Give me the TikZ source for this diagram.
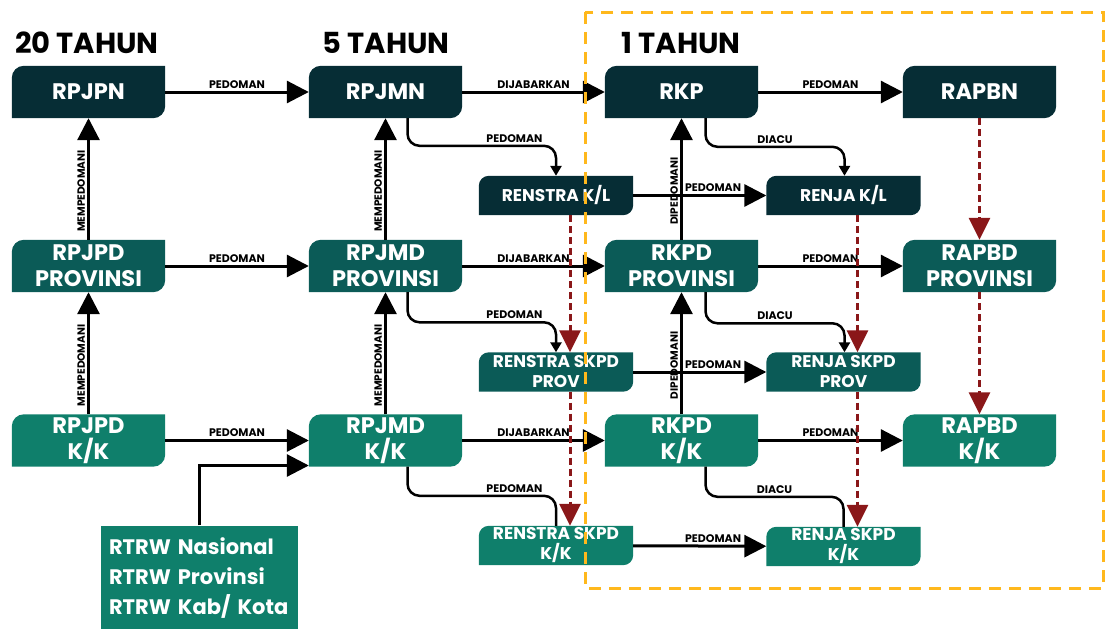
\documentclass[tikz,border=0pt]{standalone}
\usepackage{fontspec}
\setmainfont{Poppins}
\usetikzlibrary{arrows.meta,backgrounds}
\definecolor{toneA}{HTML}{062D35}
\definecolor{toneB}{HTML}{0B5B57}
\definecolor{toneC}{HTML}{0F7F6B}
\definecolor{budget}{HTML}{8A1719}
\definecolor{yearline}{HTML}{FFB81C}
\begin{document}
\begin{tikzpicture}[x=1pt,y=1pt,
    bigbox/.style={minimum width=153pt,minimum height=52pt,inner sep=0pt,align=center,text=white,
      font=\bfseries\fontsize{22.5}{26}\selectfont},
    smallbox/.style={minimum width=154pt,minimum height=39pt,inner sep=0pt,align=center,text=white,
      font=\bfseries\fontsize{17}{20}\selectfont},
    head/.style={font=\bfseries\fontsize{29}{32}\selectfont},
    lbl/.style={above,inner sep=2pt,font=\bfseries\fontsize{11}{12}\selectfont},
    vlbl/.style={rotate=90,anchor=south,pos=0.4,inner sep=2pt,font=\bfseries\fontsize{10.5}{12}\selectfont},
    big/.style={line width=3pt,-{Triangle[length=22pt,width=22pt]}},
    thin/.style={line width=2.5pt,rounded corners=12pt,-{Triangle[length=10pt,width=11pt]}},
    thinend/.style={line width=2.5pt,rounded corners=12pt},
    redline/.style={line width=3pt,budget,dash pattern=on 7pt off 4pt,-{Triangle[length=22pt,width=21pt]}}]
\useasboundingbox (0,0) rectangle (1106,-629);

\node[head] (h20) at (87,-43) {20 TAHUN};
\node[head] (h5) at (386,-43) {5 TAHUN};
\node[head] (h1) at (681,-43) {1 TAHUN};

\node[bigbox] (rpjpn) at (88.5,-92) {RPJPN};
\node[bigbox] (rpjmn) at (385.5,-92) {RPJMN};
\node[bigbox] (rkp) at (681.5,-92) {RKP};
\node[bigbox] (rapbn) at (979.5,-92) {RAPBN};

\node[bigbox] (rpjpdprov) at (88.5,-266) {RPJPD\\PROVINSI};
\node[bigbox] (rpjmdprov) at (385.5,-266) {RPJMD\\PROVINSI};
\node[bigbox] (rkpdprov) at (681.5,-266) {RKPD\\PROVINSI};
\node[bigbox] (rapbdprov) at (979.5,-266) {RAPBD\\PROVINSI};

\node[bigbox] (rpjpdkk) at (88.5,-440.5) {RPJPD\\K/K};
\node[bigbox] (rpjmdkk) at (385.5,-440.5) {RPJMD\\K/K};
\node[bigbox] (rkpdkk) at (681.5,-440.5) {RKPD\\K/K};
\node[bigbox] (rapbdkk) at (979.5,-440.5) {RAPBD\\K/K};

\node[smallbox] (renstrakl) at (556,-195.5) {RENSTRA K/L};
\node[smallbox] (renjakl) at (843.5,-195.5) {RENJA K/L};
\node[smallbox] (renstraprov) at (556,-372) {RENSTRA SKPD\\PROV};
\node[smallbox] (renjaprov) at (843.5,-372) {RENJA SKPD\\PROV};
\node[smallbox] (renstrakk) at (556,-545.5) {RENSTRA SKPD\\K/K};
\node[smallbox] (renjakk) at (843.5,-546.5) {RENJA SKPD\\K/K};

\node[fill=toneC,text=white,align=left,text width=181pt,inner xsep=8pt,inner ysep=0pt,minimum height=106pt,
  font=\bfseries\fontsize{21}{30}\selectfont] (rtrw) at (199.5,-578.5) {RTRW Nasional\\RTRW Provinsi\\RTRW Kab/ Kota};

\begin{scope}[on background layer]
\foreach \n/\c in {rpjpn/toneA,rpjmn/toneA,rkp/toneA,rapbn/toneA,
    rpjpdprov/toneB,rpjmdprov/toneB,rkpdprov/toneB,rapbdprov/toneB,
    rpjpdkk/toneC,rpjmdkk/toneC,rkpdkk/toneC,rapbdkk/toneC}
  \fill[\c] ([yshift=-12pt]\n.north west) arc[start angle=180,end angle=90,radius=12pt] -- (\n.north east)
    -- ([yshift=12pt]\n.south east) arc[start angle=0,end angle=-90,radius=12pt] -- (\n.south west) -- cycle;
\foreach \n/\c in {renstrakl/toneA,renjakl/toneA,renstraprov/toneB,renjaprov/toneB,renstrakk/toneC,renjakk/toneC}
  \fill[\c] ([yshift=-10pt]\n.north west) arc[start angle=180,end angle=90,radius=10pt] -- (\n.north east)
    -- ([yshift=10pt]\n.south east) arc[start angle=0,end angle=-90,radius=10pt] -- (\n.south west) -- cycle;
\end{scope}

\draw[big] (rpjpn) -- node[lbl] {PEDOMAN} (rpjmn);
\draw[big] (rpjmn) -- node[lbl] {DIJABARKAN} (rkp);
\draw[big] (rkp) -- node[lbl] {PEDOMAN} (rapbn);
\draw[big] (rpjpdprov) -- node[lbl] {PEDOMAN} (rpjmdprov);
\draw[big] (rpjmdprov) -- node[lbl] {DIJABARKAN} (rkpdprov);
\draw[big] (rkpdprov) -- node[lbl] {PEDOMAN} (rapbdprov);
\draw[big] (rpjpdkk) -- node[lbl] {PEDOMAN} (rpjmdkk);
\draw[big] (rpjmdkk) -- node[lbl] {DIJABARKAN} (rkpdkk);
\draw[big] (rkpdkk) -- node[lbl] {PEDOMAN} (rapbdkk);
\draw[big] (rtrw.north) |- ([yshift=-25pt]rpjmdkk.west);

\draw[big] (rpjpdprov) -- node[vlbl] {MEMPEDOMANI} (rpjpn);
\draw[big] (rpjpdkk) -- node[vlbl] {MEMPEDOMANI} (rpjpdprov);
\draw[big] (rpjmdprov) -- node[vlbl] {MEMPEDOMANI} (rpjmn);
\draw[big] (rpjmdkk) -- node[vlbl] {MEMPEDOMANI} (rpjmdprov);
\draw[big] (rkpdprov) -- node[vlbl] {DIPEDOMANI} (rkp);
\draw[big] (rkpdkk) -- node[vlbl] {DIPEDOMANI} (rkpdprov);

\draw[big] (renstrakl) -- node[lbl,pos=0.6] {PEDOMAN} (renjakl);
\draw[big] (renstraprov) -- node[lbl,pos=0.6] {PEDOMAN} (renjaprov);
\draw[big] (renstrakk) -- node[lbl,pos=0.6] {PEDOMAN} (renjakk);

\draw[thin] ([xshift=22pt]rpjmn.south) |- node[lbl,pos=0.86] {PEDOMAN} ([yshift=30pt]renstrakl.north) -- (renstrakl.north);
\draw[thin] ([xshift=24pt]rkp.south) |- node[lbl,pos=0.75] {DIACU} ([yshift=29pt,xshift=1pt]renjakl.north) -- ([xshift=1pt]renjakl.north);
\draw[thin] ([xshift=22pt]rpjmdprov.south) |- node[lbl,pos=0.86] {PEDOMAN} ([yshift=30pt]renstraprov.north) -- (renstraprov.north);
\draw[thin] ([xshift=24pt]rkpdprov.south) |- node[lbl,pos=0.75] {DIACU} ([yshift=29pt,xshift=1pt]renjaprov.north) -- ([xshift=1pt]renjaprov.north);
\draw[thinend] ([xshift=22pt]rpjmdkk.south) |- node[lbl,pos=0.86] {PEDOMAN} ([yshift=30pt]renstrakk.north) -- (renstrakk.north);
\draw[thinend] ([xshift=24pt]rkpdkk.south) |- node[lbl,pos=0.75] {DIACU} ([yshift=30pt]renjakk.north) -- (renjakk.north);

\draw[redline] (rapbn) -- (rapbdprov);
\draw[redline] (rapbdprov) -- (rapbdkk);
\draw[redline] ([xshift=14pt]renstrakl.south) -- ([xshift=14pt]renstraprov.north);
\draw[redline] ([xshift=14pt]renstraprov.south) -- ([xshift=14pt]renstrakk.north);
\draw[redline] ([xshift=14pt]renjakl.south) -- ([xshift=14pt]renjaprov.north);
\draw[redline] ([xshift=14pt]renjaprov.south) -- ([xshift=14pt]renjakk.north);

\draw[yearline,line width=3pt,dash pattern=on 12pt off 8pt] (585,-12) rectangle (1103,-588);
\end{tikzpicture}
\end{document}
